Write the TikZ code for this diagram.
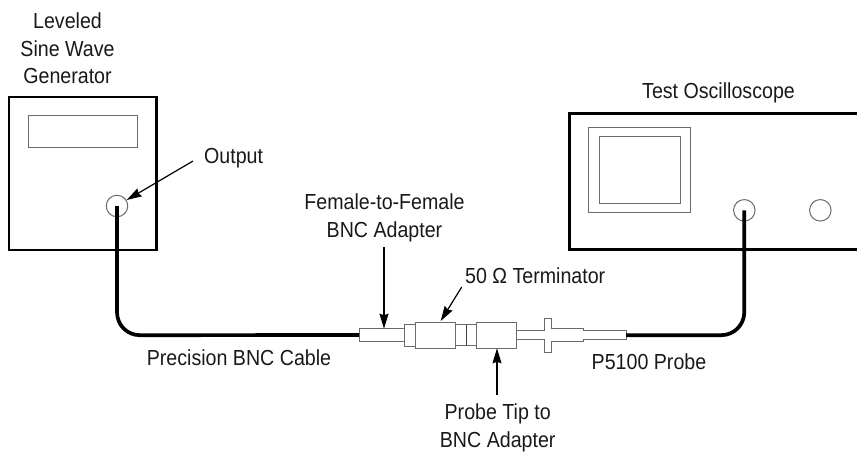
\documentclass[tikz,border=0pt]{standalone}
\usepackage{fontspec}
\setmainfont[FakeStretch=0.9]{Liberation Sans}
\usetikzlibrary{arrows.meta}
\definecolor{partgray}{gray}{0.42}
\tikzset{
  x=1pt,y=-1pt,
  box/.style={draw=black,line width=2.8pt,inner sep=0pt,outer sep=0pt},
  part/.style={draw=partgray,line width=1pt,fill=white,inner sep=0pt,outer sep=0pt},
  jack/.style={circle,draw=partgray,line width=1pt,minimum size=21.5pt,inner sep=0pt,outer sep=0pt},
  cable/.style={line width=3.7pt,black},
  pointer/.style={line width=1.2pt,-{Stealth[length=15pt,width=9pt,inset=1.5pt]}},
  label/.style={font=\fontsize{21.8}{27.3}\selectfont,align=center,inner sep=0pt,text=black!90},
}
\begin{document}
\begin{tikzpicture}
\useasboundingbox (0,0) rectangle (857,453);
% generator
\node[box,anchor=north west,minimum width=147.5pt,minimum height=153pt] (gen) at (9,97) {};
\node[part,anchor=north west,minimum width=109pt,minimum height=32pt] (gendisp) at (28,115) {};
\node[jack] (genout) at (117,206) {};
% oscilloscope
\coordinate (scopeTR) at (857,113.7);
\coordinate (scopeBR) at (857,249.7);
\coordinate (scopeTL) at (569.3,113.7);
\coordinate (scopeBL) at (569.3,249.7);
\draw[line width=2.8pt] (scopeTR) -- (scopeTL) -- (scopeBL) -- (scopeBR);
\node[part,anchor=north west,minimum width=102pt,minimum height=85pt] (bezel) at (588.7,127.7) {};
\node[part,anchor=north west,minimum width=80.7pt,minimum height=67.4pt] (screen) at (599.3,136.3) {};
\node[jack] (scopein) at (744.3,210.3) {};
\node[jack] (scopeaux) at (820.3,210.3) {};
% connector parts
\node[part,anchor=north west,minimum width=45.7pt,minimum height=12.6pt] (ff) at (359,328.7) {};
\node[part,anchor=north west,minimum width=10.6pt,minimum height=22pt] (collar) at (404.7,324) {};
\node[part,anchor=north west,minimum width=40.4pt,minimum height=26pt] (term) at (415.3,322.3) {};
\node[part,anchor=north west,minimum width=20.3pt,minimum height=21pt] (neck) at (455.7,324.7) {};
\coordinate (seamT) at (466,324.7);
\coordinate (seamB) at (466,345.7);
\draw[line width=1pt,black!75] (seamT) -- (seamB);
\node[part,anchor=north west,minimum width=40.3pt,minimum height=26pt] (tipad) at (476,322.3) {};
% probe body
\draw[part] (516.3,330.7) -- (544.3,330.7) -- (544.3,318.7) -- (551.3,318.7) -- (551.3,328.3)
  -- (583,328.3) -- (583,330.7) -- (626,330.7) -- (626,339.7) -- (583,339.7) -- (583,341.7)
  -- (551.3,341.7) -- (551.3,352) -- (544.3,352) -- (544.3,339.7) -- (516.3,339.7) -- cycle;
\coordinate (probeend) at (626,335.2);
% cables
\coordinate (ca) at (117,312);
\draw[cable] (genout.center) -- (ca) .. controls (117,325) and (127,335.2) .. (140,335.2) -- (ff.west);
\draw[cable] (probeend) -- (721,335.2) .. controls (734,335.2) and (744.3,325) .. (744.3,312) -- (scopein.center);
% labels
\node[label] (lgen) at (67.5,48.5) {Leveled\\Sine Wave\\Generator};
\node[label,anchor=west] (lout) at (204,158) {Output};
\node[label] (lscope) at (718.5,93) {Test Oscilloscope};
\node[label] (lff) at (384.5,218) {Female-to-Female\\BNC Adapter};
\node[label,anchor=west] (lterm) at (465,275.5) {50 Ω Terminator};
\node[label] (lcable) at (239,358) {Precision BNC Cable};
\node[label] (lprobe) at (649,362) {P5100 Probe};
\node[label] (ltip) at (497.7,428) {Probe Tip to\\BNC Adapter};
% pointers
\coordinate (poutS) at (193,161);
\coordinate (poutE) at (126.7,200);
\coordinate (pffS) at (384,247);
\coordinate (pffE) at (384,328.7);
\coordinate (ptermS) at (461.7,287);
\coordinate (ptermE) at (440.7,321);
\coordinate (ptipS) at (497,395);
\coordinate (ptipE) at (497,348.3);
\draw[pointer] (poutS) -- (poutE);
\draw[pointer] (pffS) -- (pffE);
\draw[pointer] (ptermS) -- (ptermE);
\draw[pointer] (ptipS) -- (ptipE);
\end{tikzpicture}
\end{document}
